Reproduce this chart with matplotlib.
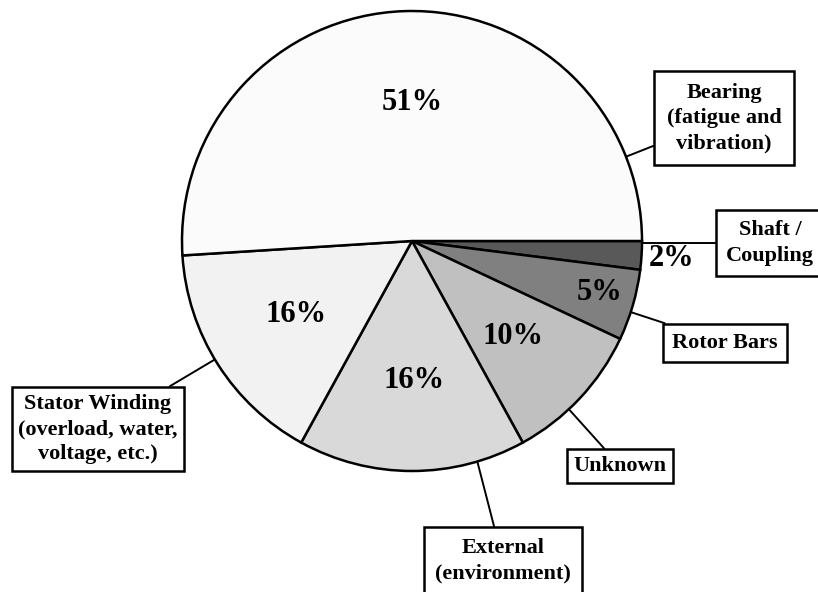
import numpy as np
import matplotlib
import matplotlib.pyplot as plt

matplotlib.rcParams.update({
    "font.family": ["Liberation Serif", "DejaVu Serif"],
    "font.weight": "bold",
})

# failure causes, clockwise from 3 o'clock
CAUSES = ["Shaft /\nCoupling", "Rotor Bars", "Unknown",
          "External\n(environment)",
          "Stator Winding\n(overload, water,\nvoltage, etc.)",
          "Bearing\n(fatigue and\nvibration)"]
SHARES = [2, 5, 10, 16, 16, 51]
SHADES = ["#595959", "#808080", "#c0c0c0", "#d9d9d9", "#f2f2f2", "#fbfbfb"]

# layout (pixel coords, y down)
CX, CY, R = 412, 241, 230
PCT_POS = [(672, 258), (600, 293), (513, 337), (414, 380), (296, 315), (412, 103)]
BOX_POS = [(770, 243), (725, 343), (620, 466), (503, 561), (98, 429), (724, 118)]
BOX_PAD = [0.45, 0.4, 0.3, 0.5, 0.3, 0.55]
LEADER_ANG = [-0.5, -18, -47, -73.5, -149, 21.5]   # degrees, ccw, on the rim

fig = plt.figure(figsize=(8.18, 5.92), dpi=100)
ax = fig.add_axes([0, 0, 1, 1])

ax.pie(SHARES, colors=SHADES, startangle=0, counterclock=True,
       center=(CX, CY), radius=R, frame=True,
       wedgeprops=dict(edgecolor="black", linewidth=1.8))

ax.set_xlim(0, 818)
ax.set_ylim(592, 0)
ax.set_aspect("equal")
ax.axis("off")

for v, (px, py) in zip(SHARES, PCT_POS):
    ax.text(px, py, f"{v}%", ha="center", va="center",
            fontsize=22, fontweight="bold")

for lab, (bx, by), pad, ang in zip(CAUSES, BOX_POS, BOX_PAD, LEADER_ANG):
    t = np.deg2rad(ang)
    ex, ey = CX + R * np.cos(t), CY - R * np.sin(t)
    ax.annotate(lab, xy=(ex, ey), xytext=(bx, by),
                ha="center", va="center", fontsize=16, fontweight="bold",
                linespacing=1.35,
                bbox=dict(boxstyle=f"square,pad={pad}", fc="white",
                          ec="black", lw=1.8),
                arrowprops=dict(arrowstyle="-", color="black", lw=1.4,
                                shrinkA=0, shrinkB=0))

fig.savefig("out.png", dpi=100)
